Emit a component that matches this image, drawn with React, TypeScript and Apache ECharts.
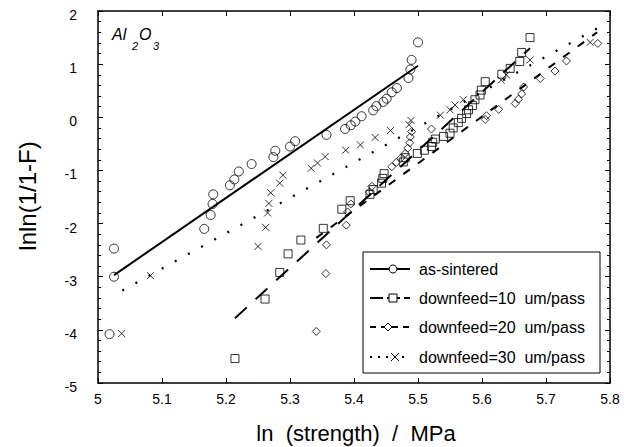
import React, { useEffect, useRef } from "react";
import * as echarts from "echarts";

// ---- Data ----
const asSintered: [number, number][] = [
  [5.018, -4.08], [5.025, -3.0], [5.025, -2.47], [5.166, -2.1], [5.176, -1.84],
  [5.179, -1.63], [5.18, -1.45], [5.206, -1.28], [5.213, -1.17], [5.22, -1.02],
  [5.24, -0.88], [5.274, -0.75], [5.277, -0.63], [5.3, -0.55], [5.308, -0.45],
  [5.357, -0.33], [5.386, -0.22], [5.395, -0.15], [5.402, -0.08], [5.412, 0.02],
  [5.43, 0.13], [5.435, 0.21], [5.446, 0.29], [5.451, 0.35], [5.459, 0.47],
  [5.467, 0.55], [5.485, 0.74], [5.488, 0.9], [5.49, 1.08], [5.5, 1.41],
];
const downfeed10: [number, number][] = [
  [5.214, -4.54], [5.261, -3.42], [5.284, -2.92], [5.297, -2.57], [5.317, -2.31],
  [5.352, -2.09], [5.381, -1.73], [5.394, -1.57], [5.425, -1.45], [5.43, -1.36],
  [5.443, -1.24], [5.445, -1.15], [5.447, -1.06], [5.477, -0.84], [5.48, -0.76],
  [5.499, -0.68], [5.51, -0.62], [5.521, -0.55], [5.523, -0.47], [5.527, -0.41],
  [5.54, -0.36], [5.55, -0.3], [5.555, -0.2], [5.563, -0.1], [5.568, -0.02],
  [5.576, 0.07], [5.579, 0.14], [5.585, 0.22], [5.589, 0.33], [5.597, 0.42],
  [5.599, 0.51], [5.605, 0.67], [5.631, 0.81], [5.644, 0.92], [5.659, 1.05],
  [5.662, 1.22], [5.675, 1.5],
];
const downfeed20: [number, number][] = [
  [5.341, -4.03], [5.356, -2.94], [5.357, -2.4], [5.388, -2.03], [5.39, -1.78],
  [5.395, -1.63], [5.424, -1.41], [5.428, -1.3], [5.459, -0.93], [5.466, -0.85],
  [5.473, -0.77], [5.48, -0.68], [5.484, -0.58], [5.487, -0.48], [5.488, -0.37],
  [5.49, -0.27], [5.521, -0.22], [5.605, -0.04], [5.607, 0.03], [5.626, 0.15],
  [5.652, 0.26], [5.657, 0.34], [5.662, 0.44], [5.665, 0.57], [5.691, 0.73],
  [5.714, 0.87], [5.732, 1.06], [5.781, 1.39],
];
const downfeed30: [number, number][] = [
  [5.037, -4.07], [5.082, -2.98], [5.25, -2.43], [5.262, -2.07], [5.265, -1.8],
  [5.267, -1.62], [5.27, -1.42], [5.284, -1.24], [5.289, -1.09], [5.333, -0.96],
  [5.343, -0.86], [5.355, -0.74], [5.387, -0.62], [5.41, -0.52], [5.433, -0.38],
  [5.457, -0.25], [5.486, -0.14], [5.489, -0.06], [5.535, 0.04], [5.55, 0.14],
  [5.558, 0.23], [5.571, 0.33], [5.63, 0.7], [5.638, 0.8], [5.675, 1.08],
  [5.769, 1.41],
];
const fitAsSintered: [number, number][] = [[5.025, -2.97], [5.5, 0.97]];
const fit10: [number, number][] = [[5.214, -3.78], [5.675, 1.3]];
const fit20: [number, number][] = [[5.341, -2.27], [5.78, 1.6]];
const fit30: [number, number][] = [[5.038, -3.26], [5.781, 1.68]];

const legendLabels = [
  "as-sintered",
  "downfeed=10\u00a0\u00a0um/pass",
  "downfeed=20\u00a0\u00a0um/pass",
  "downfeed=30\u00a0\u00a0um/pass",
];

const FONT = "'Liberation Sans', Arial, sans-serif";
const BLACK = "#000";
const CROSS = "path://M0,0L10,10M10,0L0,10";

export default function App() {
  const ref = useRef<HTMLDivElement>(null);
  useEffect(() => {
    if (!ref.current) return;
    const chart = echarts.init(ref.current, null, { renderer: "svg" });
    const hollow = { color: "rgba(0,0,0,0)", borderColor: BLACK, borderWidth: 1 };
    const axisCommon = {
      type: "value" as const,
      splitLine: { show: false },
      axisLine: { show: true, onZero: false, lineStyle: { color: BLACK, width: 1.5 } },
      axisTick: { show: true, inside: true, length: 5, lineStyle: { color: BLACK, width: 1 } },
    };
    const legendY = [269, 298, 327, 357];
    const legendGraphics: any[] = [
      {
        type: "rect", z: 100,
        shape: { x: 363, y: 252, width: 237, height: 121 },
        style: { fill: "#fff", stroke: BLACK, lineWidth: 1 },
      },
    ];
    const dashes = [null, [13, 4], [6, 5], [2, 6]];
    legendY.forEach((y, i) => {
      legendGraphics.push({
        type: "line", z: 101,
        shape: { x1: 370, y1: y, x2: 410, y2: y },
        style: { stroke: BLACK, lineWidth: 2, lineDash: dashes[i] || undefined },
      });
      legendGraphics.push({
        type: "text", z: 101, x: 419, y,
        style: { text: legendLabels[i], font: `16px ${FONT}`, fill: BLACK, verticalAlign: "middle", align: "left" },
      });
    });
    legendGraphics.push(
      { type: "circle", z: 102, shape: { cx: 393, cy: legendY[0], r: 4 }, style: { fill: "#fff", stroke: BLACK, lineWidth: 1 } },
      { type: "rect", z: 102, shape: { x: 389, y: legendY[1] - 4, width: 8, height: 8 }, style: { fill: "#fff", stroke: BLACK, lineWidth: 1 } },
      { type: "polygon", z: 102, shape: { points: [[388, legendY[2] - 4], [392, legendY[2]], [388, legendY[2] + 4], [384, legendY[2]]] }, style: { fill: "#fff", stroke: BLACK, lineWidth: 1 } },
      { type: "line", z: 102, shape: { x1: 391, y1: legendY[3] - 4, x2: 399, y2: legendY[3] + 4 }, style: { stroke: BLACK, lineWidth: 1 } },
      { type: "line", z: 102, shape: { x1: 399, y1: legendY[3] - 4, x2: 391, y2: legendY[3] + 4 }, style: { stroke: BLACK, lineWidth: 1 } },
    );

    const option: any = {
      animation: false,
      backgroundColor: "#fff",
      grid: { left: 98, right: 21, top: 11, bottom: 64 },
      xAxis: [
        {
          ...axisCommon, position: "bottom", min: 5, max: 5.8, interval: 0.1,
          axisLabel: {
            color: BLACK, fontSize: 14, fontFamily: FONT, margin: 9,
            formatter: (v: number) => String(Math.round(v * 10) / 10),
          },
        },
        { ...axisCommon, position: "top", min: 5, max: 5.8, interval: 0.1, axisLabel: { show: false } },
      ],
      yAxis: [
        {
          ...axisCommon, position: "left", min: -5, max: 2, interval: 1,
          minorTick: { show: true, splitNumber: 5, length: 3, lineStyle: { color: BLACK } },
          axisLabel: { color: BLACK, fontSize: 14, fontFamily: FONT, margin: 21, verticalAlign: "top", lineHeight: 8 },
        },
        {
          ...axisCommon, position: "right", min: -5, max: 2, interval: 1,
          minorTick: { show: true, splitNumber: 5, length: 3, lineStyle: { color: BLACK } },
          axisLabel: { show: false },
        },
      ],
      graphic: [
        {
          type: "text", x: 27, y: 196, rotation: Math.PI / 2,
          style: { text: "lnln(1/1-F)", font: `24px ${FONT}`, fill: BLACK, align: "center", verticalAlign: "middle" },
        },
        {
          type: "text", x: 356, y: 433,
          style: { text: "ln\u00a0\u00a0(strength)\u00a0\u00a0/\u00a0\u00a0MPa", font: `22px ${FONT}`, fill: BLACK, align: "center", verticalAlign: "middle" },
        },
        { type: "text", x: 112, y: 26, style: { text: "Al", font: `italic 16px ${FONT}`, fill: BLACK } },
        { type: "text", x: 132, y: 40, style: { text: "2", font: `italic 11px ${FONT}`, fill: BLACK } },
        { type: "text", x: 139, y: 26, style: { text: "O", font: `italic 16px ${FONT}`, fill: BLACK } },
        { type: "text", x: 153, y: 40, style: { text: "3", font: `italic 11px ${FONT}`, fill: BLACK } },
        ...legendGraphics,
      ],
      series: [
        { type: "scatter", name: "as-sintered", data: asSintered, symbol: "circle", symbolSize: 9, itemStyle: hollow, silent: true },
        { type: "scatter", name: "downfeed=10", data: downfeed10, symbol: "rect", symbolSize: 8, itemStyle: hollow, silent: true },
        { type: "scatter", name: "downfeed=20", data: downfeed20, symbol: "diamond", symbolSize: 8, itemStyle: hollow, silent: true },
        { type: "scatter", name: "downfeed=30", data: downfeed30, symbol: CROSS, symbolSize: 7, itemStyle: hollow, silent: true },
        { type: "line", data: fitAsSintered, showSymbol: false, silent: true, lineStyle: { color: BLACK, width: 2, type: "solid" } },
        { type: "line", data: fit10, showSymbol: false, silent: true, lineStyle: { color: BLACK, width: 2, type: [16, 12] } },
        { type: "line", data: fit20, showSymbol: false, silent: true, lineStyle: { color: BLACK, width: 2, type: [8, 10] } },
        { type: "line", data: fit30, showSymbol: false, silent: true, lineStyle: { color: BLACK, width: 2.2, type: [2, 13] } },
      ],
    };
    chart.setOption(option);
    return () => chart.dispose();
  }, []);
  return <div ref={ref} style={{ position: "fixed", left: 0, top: 0, width: 631, height: 447 }} />;
}
